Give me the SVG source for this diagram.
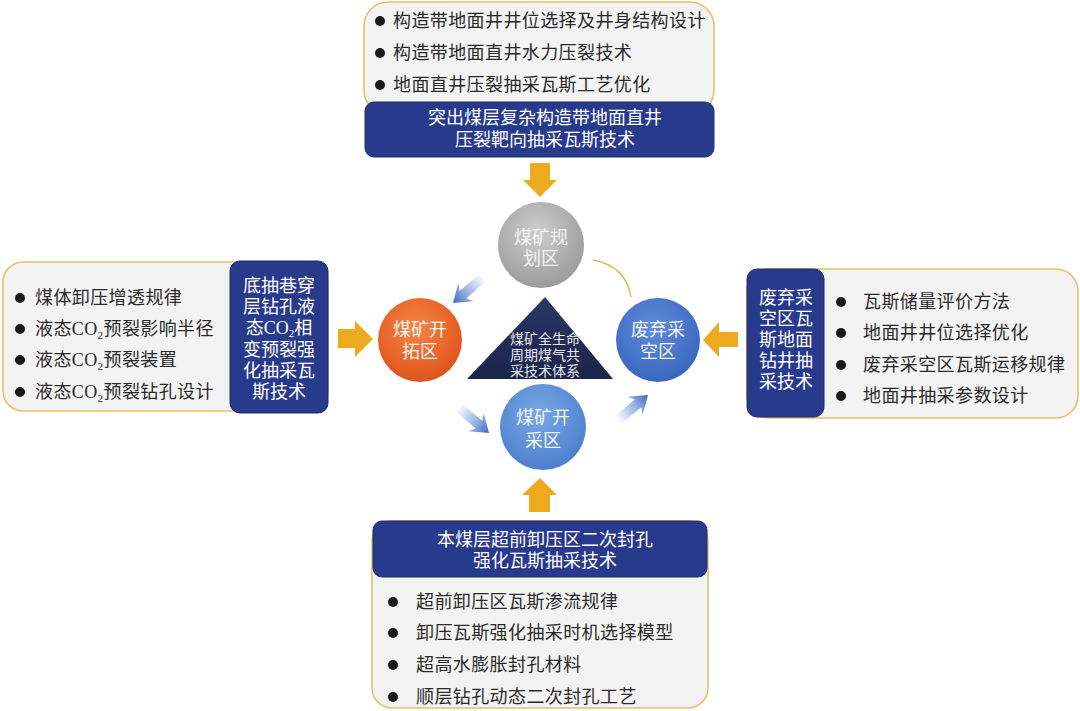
<svg xmlns="http://www.w3.org/2000/svg" width="1080" height="711" viewBox="0 0 1080 711">
<defs>
<style>
.panel{fill:#f3f3f3;stroke:#e5c06a;stroke-width:1.6}
.navy{fill:#283a8c;stroke:#1c2a6a;stroke-width:1}
.t{font-family:"Liberation Serif","Noto Sans CJK SC",serif;font-size:18px;fill:#2a2a2a;letter-spacing:0.4px}
.w{font-family:"Liberation Serif","Noto Sans CJK SC",serif;font-size:18px;fill:#ffffff;text-anchor:middle}
.c{font-family:"Liberation Serif","Noto Sans CJK SC",serif;font-size:18px;fill:#f4f4f4;text-anchor:middle}
.tri{font-family:"Liberation Serif","Noto Sans CJK SC",serif;font-size:14px;fill:#e8e8e8;text-anchor:middle}
.dot{fill:#1a1a1a}
.gold{fill:#eeaa1e}
.sub{font-size:11px}
</style>
<radialGradient id="gGray" cx="0.45" cy="0.35" r="0.7"><stop offset="0" stop-color="#cfcfcf"/><stop offset="1" stop-color="#979797"/></radialGradient>
<radialGradient id="gOrange" cx="0.45" cy="0.35" r="0.7"><stop offset="0" stop-color="#f58542"/><stop offset="1" stop-color="#de501c"/></radialGradient>
<radialGradient id="gBlue" cx="0.45" cy="0.35" r="0.7"><stop offset="0" stop-color="#5f8ddb"/><stop offset="1" stop-color="#3763bd"/></radialGradient>
<radialGradient id="gBlue2" cx="0.45" cy="0.35" r="0.7"><stop offset="0" stop-color="#79a8e6"/><stop offset="1" stop-color="#4a7ccb"/></radialGradient>
<linearGradient id="gTri" x1="0" y1="0" x2="0" y2="1"><stop offset="0" stop-color="#2a3766"/><stop offset="1" stop-color="#1b244a"/></linearGradient>
<linearGradient id="gArr" gradientUnits="userSpaceOnUse" x1="-40" y1="0" x2="0" y2="0"><stop offset="0" stop-color="#4a78cc" stop-opacity="0"/><stop offset="0.6" stop-color="#4a78cc" stop-opacity="0.6"/><stop offset="1" stop-color="#3a66c0"/></linearGradient>
<polygon id="bArrow" points="0,0 -17,-12 -13,-5 -40,-5 -40,5 -13,5 -17,12" fill="url(#gArr)"/>
</defs>
<rect width="1080" height="711" fill="#ffffff"/>

<g id="top-panel">
<rect class="panel" x="364" y="2" width="350" height="112" rx="24"/>
<circle class="dot" cx="380" cy="21" r="5"/><text class="t" x="393" y="27">构造带地面井井位选择及井身结构设计</text>
<circle class="dot" cx="380" cy="53" r="5"/><text class="t" x="393" y="59">构造带地面直井水力压裂技术</text>
<circle class="dot" cx="380" cy="85" r="5"/><text class="t" x="393" y="91">地面直井压裂抽采瓦斯工艺优化</text>
<rect class="navy" x="365" y="102" width="349" height="55" rx="9"/>
<text class="w" x="545" y="124">突出煤层复杂构造带地面直井<tspan x="545" dy="22">压裂靶向抽采瓦斯技术</tspan></text>
</g>

<g id="left-panel">
<rect class="panel" x="3" y="262" width="325" height="149" rx="20"/>
<circle class="dot" cx="20" cy="298" r="5"/><text class="t" x="35" y="304">煤体卸压增透规律</text>
<circle class="dot" cx="20" cy="329" r="5"/><text class="t" x="35" y="335">液态CO<tspan class="sub" dy="4">2</tspan><tspan dy="-4">预裂影响半径</tspan></text>
<circle class="dot" cx="20" cy="360" r="5"/><text class="t" x="35" y="366">液态CO<tspan class="sub" dy="4">2</tspan><tspan dy="-4">预裂装置</tspan></text>
<circle class="dot" cx="20" cy="392" r="5"/><text class="t" x="35" y="398">液态CO<tspan class="sub" dy="4">2</tspan><tspan dy="-4">预裂钻孔设计</tspan></text>
<rect class="navy" x="230" y="261" width="98" height="152" rx="10"/>
<text class="w" x="279" y="292">底抽巷穿<tspan x="279" dy="21">层钻孔液</tspan><tspan x="279" dy="21">态CO<tspan class="sub" dy="3">2</tspan><tspan dy="-3">相</tspan></tspan><tspan x="279" dy="22">变预裂强</tspan><tspan x="279" dy="21">化抽采瓦</tspan><tspan x="279" dy="21">斯技术</tspan></text>
</g>

<g id="right-panel">
<rect class="panel" x="747" y="269" width="331" height="149" rx="22"/>
<rect class="navy" x="747" y="269" width="77" height="148" rx="10"/>
<text class="w" x="786" y="304">废弃采<tspan x="786" dy="21">空区瓦</tspan><tspan x="786" dy="21">斯地面</tspan><tspan x="786" dy="21">钻井抽</tspan><tspan x="786" dy="21">采技术</tspan></text>
<circle class="dot" cx="841" cy="302" r="5"/><text class="t" x="863" y="308">瓦斯储量评价方法</text>
<circle class="dot" cx="841" cy="333" r="5"/><text class="t" x="863" y="339">地面井井位选择优化</text>
<circle class="dot" cx="841" cy="365" r="5"/><text class="t" x="863" y="371">废弃采空区瓦斯运移规律</text>
<circle class="dot" cx="841" cy="396" r="5"/><text class="t" x="863" y="402">地面井抽采参数设计</text>
</g>

<g id="bottom-panel">
<rect class="panel" x="372" y="521" width="336" height="187" rx="20"/>
<rect class="navy" x="373" y="521" width="334" height="56" rx="9"/>
<text class="w" x="545" y="546">本煤层超前卸压区二次封孔<tspan x="545" dy="21">强化瓦斯抽采技术</tspan></text>
<circle class="dot" cx="393" cy="602" r="5"/><text class="t" x="416" y="608">超前卸压区瓦斯渗流规律</text>
<circle class="dot" cx="393" cy="633" r="5"/><text class="t" x="416" y="639">卸压瓦斯强化抽采时机选择模型</text>
<circle class="dot" cx="393" cy="665" r="5"/><text class="t" x="416" y="671">超高水膨胀封孔材料</text>
<circle class="dot" cx="393" cy="697" r="5"/><text class="t" x="416" y="703">顺层钻孔动态二次封孔工艺</text>
</g>

<g id="center-triangle">
<polygon points="545,297 467,379 613,379" fill="url(#gTri)"/>
<text class="tri" x="545" y="344">煤矿全生命<tspan x="545" dy="16">周期煤气共</tspan><tspan x="545" dy="16">采技术体系</tspan></text>
</g>

<g id="node-planning">
<circle cx="541" cy="245" r="43" fill="url(#gGray)"/>
<text class="c" x="541" y="244">煤矿规<tspan x="541" dy="21">划区</tspan></text>
</g>
<g id="node-development">
<circle cx="420" cy="340" r="42" fill="url(#gOrange)"/>
<text class="c" x="420" y="336">煤矿开<tspan x="420" dy="22">拓区</tspan></text>
</g>
<g id="node-abandoned">
<circle cx="658" cy="340" r="42" fill="url(#gBlue)"/>
<text class="c" x="658" y="336">废弃采<tspan x="658" dy="22">空区</tspan></text>
</g>
<g id="node-mining">
<circle cx="543" cy="427" r="43" fill="url(#gBlue2)"/>
<text class="c" x="543" y="424">煤矿开<tspan x="543" dy="23">采区</tspan></text>
</g>

<g id="connectors">
<polygon class="gold" points="530,163 550,163 550,180 557,180 540,197 523,180 530,180"/>
<polygon class="gold" points="338,329 355,329 355,321 373,339 355,357 355,348 338,348"/>
<polygon class="gold" points="738,332 719,332 719,322 703,340 719,357 719,347 738,347"/>
<polygon class="gold" points="529,512 550,512 550,495 557,495 540,478 522,495 529,495"/>
<path d="M593,260 Q626,266 631,297" fill="none" stroke="#e2b94a" stroke-width="1.5"/>
<use href="#bArrow" transform="translate(453,303) rotate(140)"/>
<use href="#bArrow" transform="translate(489,433) rotate(40)"/>
<use href="#bArrow" transform="translate(648,395) rotate(-40)"/>
</g>
</svg>
